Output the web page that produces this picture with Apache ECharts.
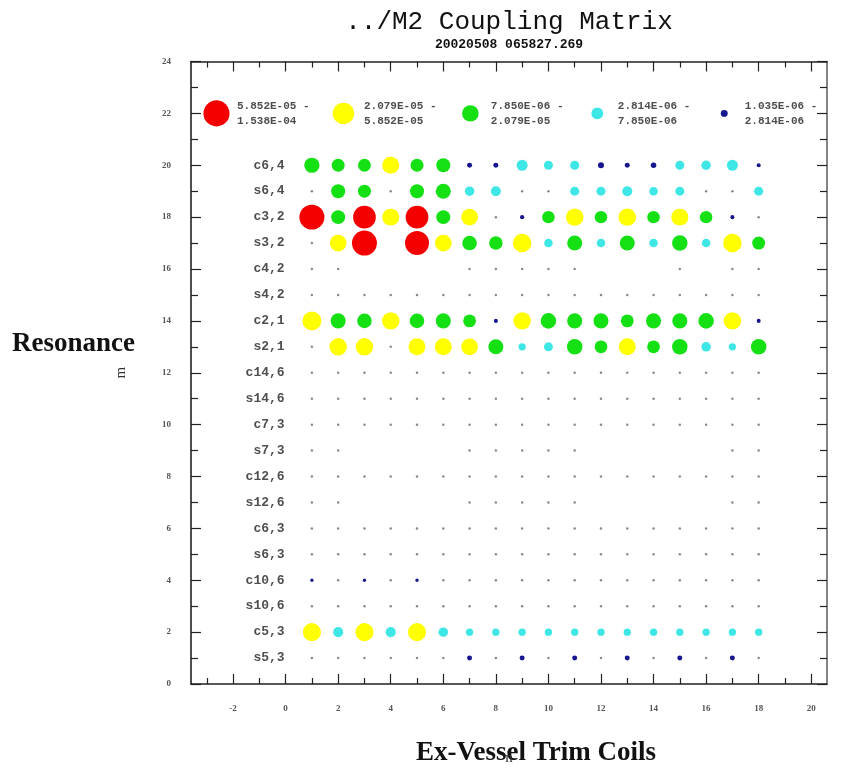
<!DOCTYPE html>
<html>
<head>
<meta charset="utf-8">
<script src="https://cdn.jsdelivr.net/npm/echarts@6/dist/echarts.min.js"></script>
<style>
  html, body { margin: 0; padding: 0; background: #ffffff; }
  #chart { width: 868px; height: 771px; }
</style>
</head>
<body>
<div id="chart"></div>
<script>
// Resonance (m) labels, top row first
const resonances = ['c6,4', 's6,4', 'c3,2', 's3,2', 'c4,2', 's4,2', 'c2,1', 's2,1',
  'c14,6', 's14,6', 'c7,3', 's7,3', 'c12,6', 's12,6', 'c6,3', 's6,3',
  'c10,6', 's10,6', 'c5,3', 's5,3'];

// Ex-vessel trim coil numbers (n)
const coils = [1, 2, 3, 4, 5, 6, 7, 8, 9, 10, 11, 12, 13, 14, 15, 16, 17, 18];

// Coupling magnitude for each resonance, one value per coil (null = no entry)
const rowC64 = [1.6e-5, 1.0e-5, 9.5e-6, 2.31e-5, 1.0e-5, 1.23e-5, 1.87e-6, 1.87e-6, 6.58e-6, 4.33e-6, 4.33e-6, 2.31e-6, 1.87e-6, 2.08e-6, 4.33e-6, 4.8e-6, 6.58e-6, 1.52e-6];
const rowS64 = [6e-7, 1.23e-5, 1.0e-5, 7e-7, 1.23e-5, 1.52e-5, 4.8e-6, 5.3e-6, 6e-7, 6e-7, 4.33e-6, 4.33e-6, 5.34e-6, 3.9e-6, 4.33e-6, 6e-7, 6e-7, 4.33e-6];
const rowC32 = [1.23e-4, 1.23e-5, 7.6e-5, 2.31e-5, 7.6e-5, 1.23e-5, 2.2e-5, 7e-7, 1.6e-6, 9.0e-6, 2.56e-5, 9.0e-6, 2.56e-5, 9.0e-6, 2.31e-5, 9.0e-6, 1.52e-6, 6e-7];
const rowS32 = [6e-7, 2.2e-5, 1.23e-4, null, 1.0e-4, 2.2e-5, 1.4e-5, 1.11e-5, 3.16e-5, 3.9e-6, 1.52e-5, 3.9e-6, 1.52e-5, 3.9e-6, 1.69e-5, 3.9e-6, 3.16e-5, 1.0e-5];
const rowC42 = [6e-7, 6e-7, null, null, null, null, 6e-7, 6e-7, 6e-7, 6e-7, 7e-7, null, null, null, 6e-7, null, 6e-7, 6e-7];
const rowS42 = [6e-7, 6e-7, 6e-7, 7e-7, 6e-7, 6e-7, 6e-7, 6e-7, 6e-7, 6e-7, 6e-7, 6e-7, 7e-7, 6e-7, 6e-7, 6e-7, 6e-7, 6e-7];
const rowC21 = [3.51e-5, 1.52e-5, 1.37e-5, 2.56e-5, 1.37e-5, 1.52e-5, 9.5e-6, 1.52e-6, 2.56e-5, 1.69e-5, 1.52e-5, 1.52e-5, 9.5e-6, 1.52e-5, 1.52e-5, 1.69e-5, 2.56e-5, 1.52e-6];
const rowS21 = [6e-7, 2.56e-5, 2.56e-5, 7e-7, 2.31e-5, 2.31e-5, 2.2e-5, 1.52e-5, 3.0e-6, 4.33e-6, 1.69e-5, 9.5e-6, 2.31e-5, 9.5e-6, 1.69e-5, 4.8e-6, 3.0e-6, 1.69e-5];
const rowC146 = [6e-7, 6e-7, 6e-7, 6e-7, 6e-7, 6e-7, 6e-7, 6e-7, 6e-7, 6e-7, 6e-7, 6e-7, 7e-7, 6e-7, 6e-7, 6e-7, 6e-7, 6e-7];
const rowS146 = [6e-7, 6e-7, 6e-7, 6e-7, 6e-7, 6e-7, 6e-7, 6e-7, 6e-7, 6e-7, 6e-7, 6e-7, 7e-7, 6e-7, 6e-7, 6e-7, 6e-7, 6e-7];
const rowC73 = [6e-7, 6e-7, 6e-7, 6e-7, 6e-7, 6e-7, 6e-7, 6e-7, 6e-7, 6e-7, 6e-7, 6e-7, 7e-7, 6e-7, 6e-7, 6e-7, 6e-7, 6e-7];
const rowS73 = [6e-7, 6e-7, null, null, null, null, 6e-7, 6e-7, 6e-7, 6e-7, 6e-7, null, null, null, null, null, 6e-7, 6e-7];
const rowC126 = [6e-7, 6e-7, 6e-7, 6e-7, 6e-7, 6e-7, 6e-7, 6e-7, 6e-7, 6e-7, 6e-7, 6e-7, 7e-7, 6e-7, 6e-7, 6e-7, 6e-7, 6e-7];
const rowS126 = [6e-7, 6e-7, null, null, null, null, 6e-7, 6e-7, 6e-7, 6e-7, 6e-7, null, null, null, null, null, 6e-7, 6e-7];
const rowC63 = [6e-7, 6e-7, 6e-7, 7e-7, 7e-7, 6e-7, 6e-7, 6e-7, 6e-7, 6e-7, 6e-7, 6e-7, 7e-7, 6e-7, 6e-7, 6e-7, 6e-7, 6e-7];
const rowS63 = [6e-7, 6e-7, 6e-7, 7e-7, 7e-7, 6e-7, 6e-7, 6e-7, 6e-7, 6e-7, 6e-7, 6e-7, 7e-7, 6e-7, 6e-7, 6e-7, 6e-7, 6e-7];
const rowC106 = [1.3e-6, 6e-7, 1.3e-6, 6e-7, 1.3e-6, 6e-7, 6e-7, 6e-7, 6e-7, 6e-7, 6e-7, 6e-7, 7e-7, 6e-7, 6e-7, 6e-7, 6e-7, 6e-7];
const rowS106 = [6e-7, 6e-7, 6e-7, 6e-7, 7e-7, 6e-7, 6e-7, 6e-7, 6e-7, 6e-7, 6e-7, 6e-7, 7e-7, 6e-7, 6e-7, 6e-7, 6e-7, 6e-7];
const rowC53 = [2.85e-5, 5.34e-6, 2.85e-5, 5.34e-6, 2.85e-5, 4.8e-6, 3.0e-6, 3.0e-6, 3.0e-6, 3.0e-6, 3.0e-6, 3.0e-6, 3.0e-6, 3.0e-6, 3.0e-6, 3.0e-6, 3.0e-6, 3.0e-6];
const rowS53 = [6e-7, 6e-7, 6e-7, 6e-7, 6e-7, 6e-7, 1.87e-6, 6e-7, 1.87e-6, 6e-7, 1.87e-6, 6e-7, 1.87e-6, 6e-7, 1.87e-6, 6e-7, 1.87e-6, 6e-7];

const rows = [rowC64, rowS64, rowC32, rowS32, rowC42, rowS42, rowC21, rowS21,
  rowC146, rowS146, rowC73, rowS73, rowC126, rowS126, rowC63, rowS63,
  rowC106, rowS106, rowC53, rowS53];

// Magnitude bins (low to high edges) and their colours
const binEdges = [1.035e-6, 2.814e-6, 7.850e-6, 2.079e-5, 5.852e-5, 1.538e-4];
const binColors = ['#16168e', '#3ee6e6', '#14e014', '#ffff00', '#f40000'];
const belowColor = '#8a8a8a';

// Axis tick positions
const xMajorTicks = [-2, 0, 2, 4, 6, 8, 10, 12, 14, 16, 18, 20];
const xMinorTicks = [-3, -1, 1, 3, 5, 7, 9, 11, 13, 15, 17, 19];
const yMajorTicks = [0, 2, 4, 6, 8, 10, 12, 14, 16, 18, 20, 22, 24];
const yMinorTicks = [1, 3, 5, 7, 9, 11, 13, 15, 17, 19, 21, 23];

// ---- helpers ----
function binOf(v) {
  if (v < binEdges[0]) return -1;
  for (let i = binEdges.length - 2; i >= 0; i--) {
    if (v >= binEdges[i]) return i;
  }
  return -1;
}
function colorOfBin(b) {
  return b < 0 ? belowColor : binColors[b];
}
// dot diameter grows with log10 of the magnitude
function sizeOf(v) {
  if (v < binEdges[0]) return 2.5;
  return 2 + 11 * (Math.log10(v) + 6);
}
function fmtE(v) {
  const [m, e] = v.toExponential(3).split('e');
  const n = parseInt(e, 10);
  const s = n < 0 ? '-' : '+';
  return m + 'E' + s + String(Math.abs(n)).padStart(2, '0');
}

const nRows = resonances.length;
const dotData = [];
rows.forEach((row, i) => {
  row.forEach((v, j) => {
    if (v != null) dotData.push([coils[j], nRows - i, v]);
  });
});

const rowLabelData = resonances.map((name, i) => ({ value: [0, nRows - i], name }));

// in-plot key, highest bin on the left; each marker is sized by its bin's upper edge
const keyRow = 22;
const keyStart = -2.63, keyStep = 4.83, keyTextGap = 0.78;
const keySymbols = [], keyTexts = [];
for (let k = 0; k < binColors.length; k++) {
  const b = binColors.length - 1 - k;
  const lo = binEdges[b], hi = binEdges[b + 1];
  const x = keyStart + k * keyStep;
  keySymbols.push({ value: [x, keyRow, hi], itemStyle: { color: colorOfBin(b) } });
  keyTexts.push({ value: [x + keyTextGap, keyRow], name: fmtE(lo) + ' -\n' + fmtE(hi) });
}

const tickLine = { color: '#222', width: 1.2 };
const labelFont = { fontFamily: 'Liberation Serif', fontWeight: 'bold', fontSize: 9, color: '#555' };

function xAxisDef(position, ticks, len, showLine, showLabel) {
  return {
    type: 'value', gridIndex: 0, position, min: -3.6, max: 20.6,
    axisLine: { show: showLine, onZero: false, lineStyle: { color: '#222', width: 1.5 } },
    axisTick: { show: true, inside: true, length: len, customValues: ticks, lineStyle: tickLine },
    axisLabel: showLabel ? Object.assign({ show: true, customValues: ticks, margin: 20 }, labelFont) : { show: false },
    splitLine: { show: false }
  };
}
function yAxisDef(position, ticks, len, showLine, showLabel, lineColor) {
  return {
    type: 'value', gridIndex: 0, position, min: 0, max: 24,
    axisLine: { show: showLine, onZero: false, lineStyle: { color: lineColor, width: 1.6 } },
    axisTick: { show: true, inside: true, length: len, customValues: ticks, lineStyle: tickLine },
    axisLabel: showLabel ? Object.assign({ show: true, customValues: ticks, margin: 20 }, labelFont) : { show: false },
    splitLine: { show: false }
  };
}

const xMain = xAxisDef('bottom', xMajorTicks, 10, true, true);
xMain.name = 'n';
xMain.nameLocation = 'middle';
xMain.nameGap = 67;
xMain.nameTextStyle = { fontFamily: 'Liberation Serif', fontSize: 15, color: '#333' };

const yMain = yAxisDef('left', yMajorTicks, 10, true, true, '#222');
yMain.name = 'm';
yMain.nameLocation = 'middle';
yMain.nameRotate = 90;
yMain.nameGap = 62;
yMain.nameTextStyle = { fontFamily: 'Liberation Serif', fontSize: 15, color: '#333' };

const chart = echarts.init(document.getElementById('chart'));
chart.setOption({
  animation: false,
  backgroundColor: '#ffffff',
  title: {
    text: '../M2 Coupling Matrix',
    subtext: '20020508 065827.269',
    left: 504, top: 4, textAlign: 'center', itemGap: 3,
    textStyle: { fontFamily: 'Liberation Mono', fontWeight: 'normal', fontSize: 26, color: '#111' },
    subtextStyle: { fontFamily: 'Liberation Mono', fontWeight: 'bold', fontSize: 13, color: '#111' }
  },
  grid: { left: 191, top: 61.5, width: 636, height: 631, containLabel: false },
  xAxis: [
    xMain,
    xAxisDef('bottom', xMinorTicks, 6, false, false),
    xAxisDef('top', xMajorTicks, 10, true, false),
    xAxisDef('top', xMinorTicks, 6, false, false)
  ],
  yAxis: [
    yMain,
    yAxisDef('left', yMinorTicks, 7, false, false, '#222'),
    yAxisDef('right', yMajorTicks, 10, true, false, '#666'),
    yAxisDef('right', yMinorTicks, 7, false, false, '#666')
  ],
  graphic: [
    {
      type: 'text', left: 12, top: 331, silent: true,
      style: { text: 'Resonance', font: 'bold 27px "Liberation Serif"', fill: '#111' }
    },
    {
      type: 'text', left: 416, top: 740, silent: true,
      style: { text: 'Ex-Vessel Trim Coils', font: 'bold 27px "Liberation Serif"', fill: '#111' }
    }
  ],
  series: [
    {
      type: 'scatter', name: 'coupling', silent: true,
      xAxisIndex: 0, yAxisIndex: 0,
      data: dotData,
      symbol: 'circle',
      symbolSize: (val) => sizeOf(val[2]),
      itemStyle: { color: (p) => colorOfBin(binOf(p.value[2])), opacity: 1 }
    },
    {
      type: 'scatter', name: 'resonance labels', silent: true,
      xAxisIndex: 0, yAxisIndex: 0,
      data: rowLabelData,
      symbolSize: 0,
      label: {
        show: true, position: 'left', distance: 1, formatter: '{b}',
        fontFamily: 'Liberation Mono', fontWeight: 'bold', fontSize: 13, color: '#222'
      }
    },
    {
      type: 'scatter', name: 'key symbols', silent: true,
      xAxisIndex: 0, yAxisIndex: 0,
      data: keySymbols,
      symbolSize: (val) => sizeOf(val[2]),
      itemStyle: { opacity: 1 }
    },
    {
      type: 'scatter', name: 'key text', silent: true,
      xAxisIndex: 0, yAxisIndex: 0,
      data: keyTexts,
      symbolSize: 0,
      label: {
        show: true, position: 'right', distance: 0, formatter: '{b}',
        fontFamily: 'Liberation Mono', fontWeight: 'bold', fontSize: 11, lineHeight: 15, color: '#222'
      }
    }
  ]
});
</script>
</body>
</html>
